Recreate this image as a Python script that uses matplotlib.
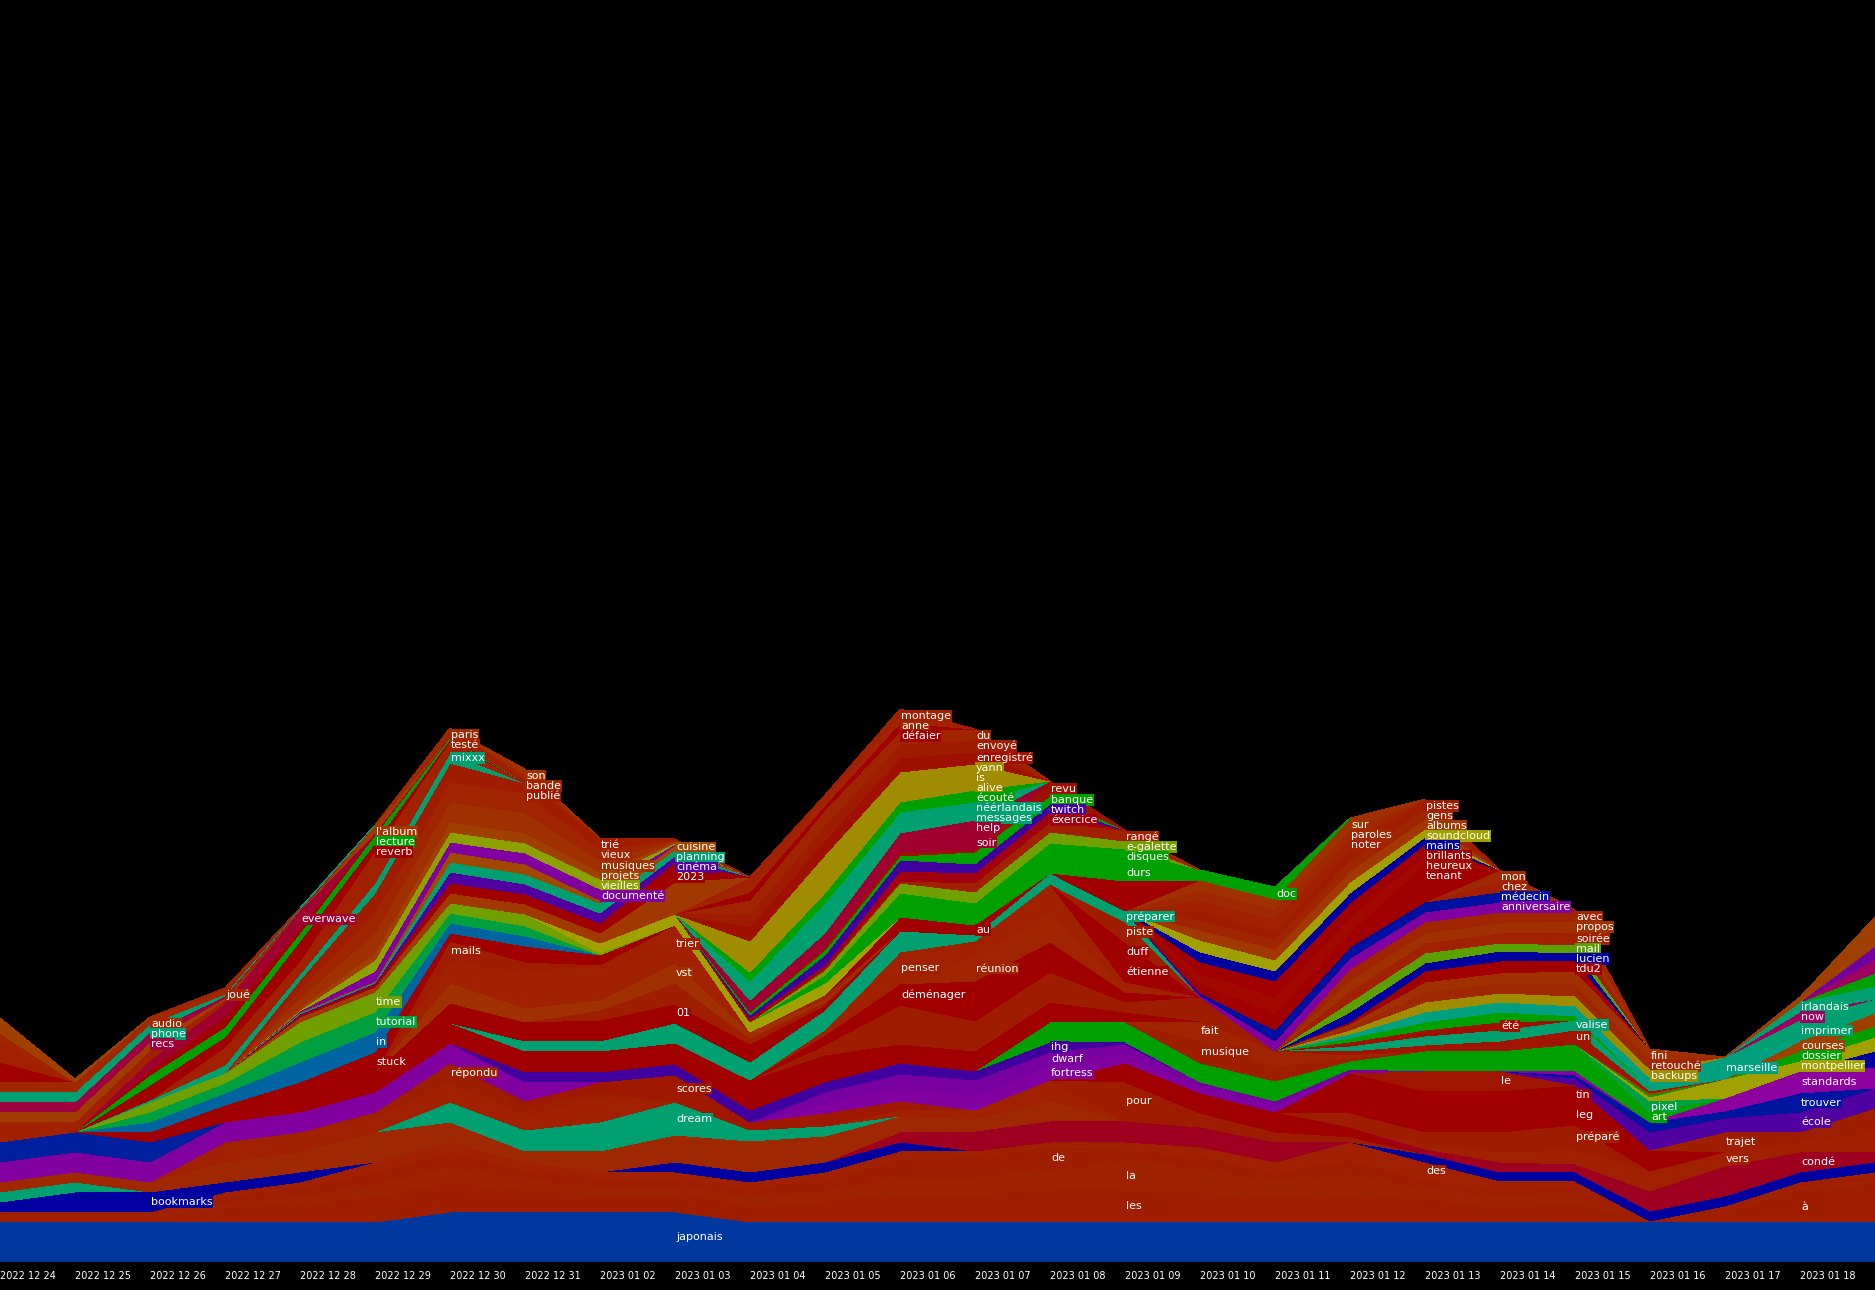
import numpy as np
import matplotlib
matplotlib.use("Agg")
import matplotlib.pyplot as plt

# word stream: one layer per word, stacked bottom to top
n_days = 26
dates = ["2022 12 24", "2022 12 25", "2022 12 26", "2022 12 27", "2022 12 28",
         "2022 12 29", "2022 12 30", "2022 12 31", "2023 01 02", "2023 01 03",
         "2023 01 04", "2023 01 05", "2023 01 06", "2023 01 07", "2023 01 08",
         "2023 01 09", "2023 01 10", "2023 01 11", "2023 01 12", "2023 01 13",
         "2023 01 14", "2023 01 15", "2023 01 16", "2023 01 17", "2023 01 18"]

# (word, first day, counts from that day on); names starting with "_" are unlabeled
layers = [
    ("japonais", 0, [40,40,40,40,40,40,50,50,50,50,40,40,40,40,40,40,40,40,40,40,40,40,40,40,40,40]),
    ("à", 0, [2,2,2,6,8,10,10,8,6,6,6,6,6,4,4,0,2,4,6,8,10,12,1,8,30,34]),
    ("les", 0, [3,3,3,8,10,15,20,14,12,12,12,15,22,24,28,32,28,20,22,14,8,8,0,2,3,4]),
    ("la", 0, [2,2,2,6,8,13,15,10,8,8,8,10,16,17,20,28,24,16,20,12,7,7,0,2,3,4]),
    ("de", 0, [2,2,2,6,8,12,15,10,8,8,8,12,18,20,24,12,12,10,14,8,6,6,0,2,2,4]),
    ("des", 0, [1,1,1,4,6,10,10,8,6,6,6,7,9,6,4,8,9,10,18,18,10,8,0,2,2,4]),
    ("bookmarks", 0, [10,20,20,10,10,0,0,0,0,10,10,10,9,0,0,0,0,0,0,8,9,9,10,10,10,10]),
    ("_crb", 12, [10,20,21,21,20,20]),
    ("_tea", 0, [10,10]),
    ("_bra", 0, [10,10,10,20,20,30,20,11,21,27,31,26,16,12,20]),
    ("dream", 6, [20,21,29,33,11,10]),
    ("_brz", 3, [20,20,15,20,14,26,0,0,0,6,9,21]),
    ("pour", 15, [39,14,10,5]),
    ("_drp", 15, [19,20,20,10]),
    ("répondu", 5, [5,19,10,4]),
    ("scores", 7, [5,10,27,8,13,9]),
    ("_pua", 0, [20,20,20,20,20,20,20,19]),
    ("condé", 19, [5,10,8,20,30,20,10]),
    ("vers", 19, [5,10,15,20,14,10,20]),
    ("préparé", 18, [14,12,20,24]),
    ("leg", 18, [20,20,20,20,11]),
    ("tin", 18, [20,21,21,20,10]),
    ("le", 19, [20,20]),
    ("trajet", 23, [20,10,24]),
    ("fortress", 11, [10,14,15,14,10,6,6,2]),
    ("dwarf", 11, [11,13,15,14,9,5,5,2]),
    ("école", 21, [7,18,14,20,20]),
    ("trouver", 21, [3,10,7,19]),
    ("standards", 21, [4,0,13,22,21]),
    ("_dbr", 25, [16]),
    ("ihg", 7, [10,10,11,12,10,11,9,10,2]),
    ("_rba", 0, [20,20,20]),
    ("_grm", 14, [20,20,19,20,8,20,20,27]),
    ("art", 22, [10]),
    ("pixel", 22, [11]),
    ("montpellier", 22, [4,19,10,14]),
    ("dossier", 22, [2,0,10,11]),
    ("courses", 22, [2,0,10,13]),
    ("musique", 16, [22,15,3]),
    ("fait", 16, [20,15,3]),
    ("un", 18, [4,6,10,14,2]),
    ("valise", 18, [5,9,11,10,3]),
    ("été", 18, [4,6,8]),
    ("_gry", 18, [4,8,10,4]),
    ("marseille", 18, [4,10,10,10,10,22]),
    ("imprimer", 24, [21,14]),
    ("now", 24, [8]),
    ("irlandais", 24, [10,13]),
    ("_grr", 25, [13]),
    ("_mar", 25, [14]),
    ("_pur", 25, [13]),
    ("_obr", 24, [5,29]),
    ("backups", 18, [4,10,9,10,9]),
    ("retouché", 18, [3,10,10,12,10]),
    ("fini", 18, [3,10,10,13,10]),
    ("_drq", 3, [5,10,20,20,21,21,21,30,27,19,20,20,10]),
    ("_brq", 11, [10,39,30,30,10,24]),
    ("déménager", 11, [10,21,40,30,10]),
    ("réunion", 13, [25,28,5]),
    ("penser", 11, [5,32,15,30,5]),
    ("étienne", 15, [20]),
    ("duff", 15, [20]),
    ("piste", 15, [20]),
    ("préparer", 7, [10,10,20,18,20,21,6,11,11]),
    ("01", 6, [20,19,21,19,18,5]),
    ("_brv", 8, [10,21,6,3]),
    ("vst", 6, [20,14,10,20,6,3]),
    ("trier", 6, [21,36,35,38,0,4]),
    ("mails", 6, [21,10]),
    ("stuck", 2, [10,12,20,20,8,16,10]),
    ("in", 2, [10,12,20,20,10,10]),
    ("tutorial", 2, [10,10,20,20,10,10]),
    ("time", 2, [10,10,20,20,10,12,2]),
    ("tdu2", 18, [2,11,12,10]),
    ("lucien", 18, [10,8,10,8]),
    ("mail", 18, [10,10,8,8]),
    ("soirée", 18, [11,10,10,12]),
    ("propos", 18, [11,10,10,12]),
    ("avec", 18, [11,11,11,11]),
    ("anniversaire", 16, [2,10,11,10,10]),
    ("médecin", 16, [2,11,11,10,10]),
    ("chez", 20, [11]),
    ("mon", 20, [11]),
    ("_drt", 19, [28]),
    ("tenant", 16, [10,17,15,10]),
    ("heureux", 16, [10,16,15,10]),
    ("brillants", 16, [11,16,14,10]),
    ("mains", 16, [10,10,10,7]),
    ("soundcloud", 16, [12,11,11,8]),
    ("albums", 16, [10,11,11,10]),
    ("gens", 16, [10,9,11,10]),
    ("pistes", 16, [10,8,10,10]),
    ("noter", 16, [10,13,11]),
    ("paroles", 16, [10,10,10]),
    ("sur", 16, [10,10,11]),
    ("au", 12, [14,10,0,30]),
    ("_ylc", 8, [10,11,10,12]),
    ("doc", 16, [4,12]),
    ("durs", 11, [4,12,11,15,16,3]),
    ("disques", 11, [4,12,11,15,16,3]),
    ("e-galette", 11, [5,10,11,11,8]),
    ("rangé", 11, [2,2,9,10,11]),
    ("éxercice", 10, [4,3,10,10,10]),
    ("twitch", 10, [3,10,11,9,8]),
    ("banque", 10, [3,5,4,12,8]),
    ("revu", 11, [3,4,2,15]),
    ("soir", 10, [6,7,10,15]),
    ("help", 10, [6,7,9,15]),
    ("messages", 10, [10,15,11,9]),
    ("néérlandais", 10, [9,15,10,9]),
    ("écouté", 10, [9,10,10,12]),
    ("alive", 10, [10,13,10,9]),
    ("is", 10, [10,13,10,9]),
    ("yann", 10, [11,12,10,8]),
    ("enregistré", 10, [14,15,14,12]),
    ("envoyé", 10, [14,15,14,12]),
    ("du", 10, [13,15,13,11]),
    ("défaier", 10, [8,5,8]),
    ("anne", 10, [8,5,7]),
    ("montage", 10, [7,5,7]),
    ("_bro", 4, [5,5,10,10,10,32]),
    ("2023", 4, [2,3,10,10,10,20]),
    ("cinéma", 4, [1,1,11,10,10,6]),
    ("planning", 4, [1,1,10,10,10,6]),
    ("cuisine", 4, [1,1,10,10,3,5]),
    ("documenté", 4, [1,10,10,11,11,1]),
    ("vieilles", 4, [1,11,10,10,10,1]),
    ("projets", 4, [3,7,10,10,7,1]),
    ("musiques", 4, [9,20,20,20,12,1]),
    ("vieux", 4, [9,20,20,20,11,1]),
    ("trié", 4, [9,20,19,10,11,1]),
    ("mixxx", 2, [2,8,6,10,10]),
    ("_brm", 2, [0,18,13,32,12]),
    ("reverb", 2, [15,10,20,8,2]),
    ("lecture", 2, [10,10,8,8,2]),
    ("_dre", 2, [5,10,5]),
    ("everwave", 2, [10,14,17,2,1]),
    ("l'album", 5, [8]),
    ("testé", 6, [4]),
    ("paris", 6, [4]),
    ("publié", 7, [4]),
    ("bande", 7, [5]),
    ("son", 7, [5]),
    ("_brb", 0, [20,10,10,3,1]),
    ("_oba", 0, [10,10,8,2]),
    ("recs", 0, [10,10,10,2,1]),
    ("phone", 0, [10,10,8,2,1]),
    ("audio", 0, [10,10,7,2]),
    ("joué", 3, [4]),
    ("_dra", 0, [20]),
    ("_brd", 0, [20]),
    ("_bre", 0, [9]),
    ("_obb", 0, [15,3]),
]

# day on which each word gets its label
label_day = {
    "japonais": 9, "les": 15, "la": 15, "de": 14, "des": 19, "à": 24, "bookmarks": 2,
    "dream": 9, "répondu": 6, "scores": 9, "pour": 15,
    "condé": 24, "vers": 23, "préparé": 21, "leg": 21, "tin": 21, "le": 20, "trajet": 23,
    "fortress": 14, "dwarf": 14, "école": 24, "trouver": 24, "standards": 24, "ihg": 14,
    "art": 22, "pixel": 22, "montpellier": 24, "dossier": 24, "courses": 24,
    "musique": 16, "fait": 16, "un": 21, "valise": 21, "été": 20, "marseille": 23,
    "imprimer": 24, "now": 24, "irlandais": 24, "backups": 22, "retouché": 22, "fini": 22,
    "déménager": 12, "penser": 12, "réunion": 13, "étienne": 15, "duff": 15, "piste": 15,
    "préparer": 15, "01": 9, "vst": 9, "trier": 9, "mails": 6, "stuck": 5, "in": 5,
    "tutorial": 5, "time": 5, "tdu2": 21, "lucien": 21, "mail": 21, "soirée": 21,
    "propos": 21, "avec": 21, "anniversaire": 20, "médecin": 20, "chez": 20, "mon": 20,
    "tenant": 19, "heureux": 19, "brillants": 19, "mains": 19, "soundcloud": 19,
    "albums": 19, "gens": 19, "pistes": 19, "noter": 18, "paroles": 18, "sur": 18,
    "au": 13, "doc": 17, "durs": 15, "disques": 15, "e-galette": 15, "rangé": 15,
    "éxercice": 14, "twitch": 14, "banque": 14, "revu": 14, "soir": 13, "help": 13,
    "messages": 13, "néérlandais": 13, "écouté": 13, "alive": 13, "is": 13, "yann": 13,
    "enregistré": 13, "envoyé": 13, "du": 13, "défaier": 12, "anne": 12, "montage": 12,
    "2023": 9, "cinéma": 9, "planning": 9, "cuisine": 9, "documenté": 8, "vieilles": 8,
    "projets": 8, "musiques": 8, "vieux": 8, "trié": 8, "mixxx": 6, "reverb": 5,
    "lecture": 5, "everwave": 4, "l'album": 5, "testé": 6, "paris": 6, "publié": 7,
    "bande": 7, "son": 7, "recs": 2, "phone": 2, "audio": 2, "joué": 3,
}

colours = {
    "japonais": "#0038a0", "à": "#a01e00", "les": "#a01e00", "la": "#9e2200",
    "de": "#a01e00", "des": "#a02000", "bookmarks": "#0000a0", "_crb": "#a00020",
    "_tea": "#00a070", "_bra": "#a02800", "dream": "#00a070", "_brz": "#a02000",
    "pour": "#a01c00", "_drp": "#a00000", "répondu": "#9e1e00", "scores": "#a01800",
    "_pua": "#8000a0", "condé": "#a00020", "vers": "#a02000", "préparé": "#a01c00",
    "leg": "#a00000", "tin": "#a00000", "le": "#a01400", "trajet": "#a01e00",
    "fortress": "#8000a0", "dwarf": "#7800a0", "école": "#5000a0", "trouver": "#0014a0",
    "standards": "#8c00a0", "_dbr": "#0000a0", "ihg": "#4000a0", "_rba": "#0020a0",
    "_grm": "#00a000", "art": "#00a000", "pixel": "#00a040", "montpellier": "#a0a000",
    "dossier": "#00a000", "courses": "#a04000", "musique": "#a01e00", "fait": "#a02400",
    "un": "#a01400", "valise": "#00a070", "été": "#a01000", "_gry": "#00a000",
    "marseille": "#00a080", "imprimer": "#00a070", "now": "#a00060", "irlandais": "#00a070",
    "_grr": "#00a000", "_mar": "#a00060", "_pur": "#7000a0", "_obr": "#a04000",
    "backups": "#a08c00", "retouché": "#a02800", "fini": "#a03000",
    "_drq": "#a00000", "_brq": "#a01c00", "déménager": "#a00000", "penser": "#a02000",
    "réunion": "#a02400", "étienne": "#a00000", "duff": "#a00000", "piste": "#a01e00",
    "préparer": "#00a070", "01": "#a00000", "_brv": "#a01e00", "vst": "#a03000",
    "trier": "#a02000", "mails": "#a01e00", "stuck": "#a00000", "in": "#0064a0",
    "tutorial": "#00a040", "time": "#70a000", "tdu2": "#a00000", "lucien": "#0000a0",
    "mail": "#5aa000", "soirée": "#a02000", "propos": "#a03000", "avec": "#a02400",
    "anniversaire": "#8000a0", "médecin": "#0010a0", "chez": "#a02000", "mon": "#a02800",
    "_drt": "#a00000", "tenant": "#a00000", "heureux": "#a00800", "brillants": "#a00000",
    "mains": "#0000a0", "soundcloud": "#a0a000", "albums": "#a03800", "gens": "#a02400",
    "pistes": "#a01c00", "noter": "#a02000", "paroles": "#a02800", "sur": "#a03000",
    "au": "#a00000", "_ylc": "#a0a000", "doc": "#00a000", "durs": "#00a000",
    "disques": "#00a000", "e-galette": "#70a000", "rangé": "#a02000", "éxercice": "#a00010",
    "twitch": "#4000a0", "banque": "#00a000", "revu": "#a01000", "soir": "#a00030",
    "help": "#a00030", "messages": "#00a070", "néérlandais": "#00a070", "écouté": "#00a000",
    "alive": "#a08c00", "is": "#a08c00", "yann": "#a08c00", "enregistré": "#a01000",
    "envoyé": "#a01c00", "du": "#a02400", "défaier": "#a00000", "anne": "#a02400",
    "montage": "#a02000", "_bro": "#a03800", "2023": "#a00000", "cinéma": "#5000a0",
    "planning": "#00a070", "cuisine": "#a04800", "documenté": "#8000a0",
    "vieilles": "#8ca000", "projets": "#a04000", "musiques": "#a03000", "vieux": "#a02400",
    "trié": "#a01c00", "mixxx": "#00a070", "_brm": "#a02000", "reverb": "#a00000",
    "lecture": "#00a000", "_dre": "#a00000", "everwave": "#a00030", "l'album": "#a03800",
    "testé": "#a02000", "paris": "#a02800", "publié": "#a01c00", "bande": "#a02400",
    "son": "#a03000", "_brb": "#a02000", "_oba": "#a03c00", "recs": "#a00040",
    "phone": "#00a070", "audio": "#a02800", "joué": "#a02400", "_dra": "#a00000",
    "_brd": "#a02000", "_bre": "#a02400", "_obb": "#a04000",
}

x = np.arange(n_days) * 75
names = [row[0] for row in layers]
vals = np.zeros((len(layers), n_days))
for i, (name, start, counts) in enumerate(layers):
    vals[i, start:start + len(counts)] = counts
cols = [colours[n] for n in names]

fig = plt.figure(figsize=(18.75, 12.9), dpi=100, facecolor="black")
ax = fig.add_axes([0, 28 / 1290, 1, 1262 / 1290])
ax.set_facecolor("black")
ax.stackplot(x, vals, colors=cols, linewidth=0, antialiased=False)
ax.set_xlim(0, 1875)
ax.set_ylim(0, 1262)
ax.axis("off")

# labels: centred in their layer, kept inside the top edge, pushed down on overlap
cum = np.vstack([np.zeros(n_days), np.cumsum(vals, axis=0)])
total = vals.sum(axis=0)
for day in range(n_days):
    items = []
    for i, n in enumerate(names):
        if label_day.get(n) == day:
            items.append((cum[i, day] + vals[i, day] / 2, n, cols[i]))
    items.sort(reverse=True)
    prev = total[day] + 3
    for centre, n, c in items:
        y = min(centre, prev - 10)
        prev = y
        ax.text(x[day] + 1, y, n, color=(0, 0, 0, 0), fontsize=8, va="center",
                ha="left", zorder=3,
                bbox=dict(boxstyle="square,pad=0.05", fc=c, ec="none"))
        ax.text(x[day] + 1, y, n, color="white", fontsize=8, va="center",
                ha="left", zorder=4)

for i, d in enumerate(dates):
    ax.text(x[i], -14, d, color="white", fontsize=7, va="center", ha="left",
            clip_on=False)

fig.savefig("out.png", dpi=100, facecolor="black")
